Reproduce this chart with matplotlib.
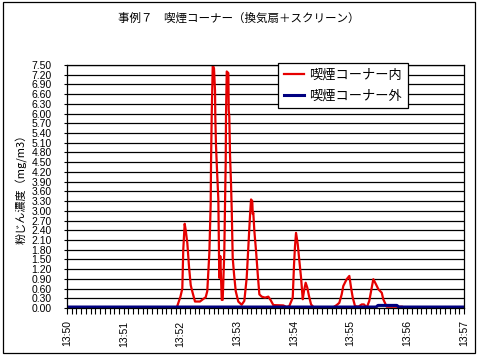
import matplotlib
matplotlib.use("Agg")
import matplotlib.pyplot as plt
from matplotlib.patches import Rectangle
from matplotlib.ticker import MultipleLocator

# seconds after 13:50:00
inside_sec = [116, 120, 122, 123, 124.5, 125.6, 127.3, 129.1, 130.9, 133,
              135.4, 140.7, 144.2, 146.7, 148.4, 150.6, 152, 152.4, 153.1, 154.2,
              155.5, 156.6, 156.9, 157.6, 158.7, 160.1, 161.1, 162.2, 163.7, 164.7,
              166.4, 167.2, 167.9, 168.2, 169, 170.7, 171.1, 171.7, 172.5, 173.5,
              174.3, 175.3, 176.7, 178.5, 181.2, 184.8, 187.6, 190.1, 191.8, 193.6,
              194.7, 196, 196.5, 197.1, 198.2, 200, 201.8, 203.5, 206, 209.5,
              213, 215.5, 218.3, 228.8, 232.4, 235.2, 238.8, 240.2, 241.2, 242.3,
              244.1, 245.5, 247.6, 249.4, 250.7, 252.5, 254.2, 256, 258.2, 261.3,
              281.1, 285.3, 288.1, 290.6, 292.3, 295.9, 298.7, 300.5, 302.3, 304.7,
              308.2, 311.8, 314.2, 317.1, 319.8, 322.4, 324.1, 326.9, 329.4, 333,
              334.6, 338.2, 350.5, 354.1]
inside_val = [0, 0.35, 0.6, 1.8, 2.6, 2.4, 2.0, 1.27, 0.7, 0.46,
              0.2, 0.2, 0.28, 0.33, 0.52, 1.7, 3.2, 4.5, 5.95, 7.5,
              7.4, 6.7, 5.9, 5.03, 4.26, 3.36, 0.93, 1.6, 0.25, 0.25,
              1.7, 3.25, 4.5, 5.9, 7.3, 7.25, 6.1, 5.9, 4.7, 3.86,
              3.0, 1.55, 1.05, 0.52, 0.2, 0.1, 0.22, 0.93, 1.86, 2.84,
              3.35, 3.3, 2.9, 2.94, 2.38, 1.76, 1.04, 0.42, 0.35, 0.32,
              0.35, 0.24, 0.09, 0.08, 0.03, 0.06, 0.32, 1.35, 1.9, 2.32,
              1.97, 1.55, 0.94, 0.27, 0.52, 0.78, 0.63, 0.37, 0.11, 0.01,
              0.01, 0.09, 0.16, 0.42, 0.68, 0.89, 0.99, 0.63, 0.32, 0.06,
              0.04, 0.11, 0.11, 0.01, 0.22, 0.63, 0.89, 0.73, 0.58, 0.47,
              0.27, 0.04, 0.04, 0.04]

outside_sec = [0, 327, 329, 349, 351, 420]
outside_val = [0.03, 0.03, 0.08, 0.08, 0.03, 0.03]

time_labels = ["13:50", "13:51", "13:52", "13:53", "13:54", "13:55", "13:56", "13:57"]
y_ticks = [round(0.3 * i, 2) for i in range(26)]

title = "事例７　喫煙コーナー（換気扇＋スクリーン）"
ylabel = "粉じん濃度（mg/m3）"
inside_name = "喫煙コーナー内"
outside_name = "喫煙コーナー外"

cjk = ["Noto Sans CJK JP", "DejaVu Sans"]
num_font = ["Liberation Sans Narrow", "Liberation Sans", "DejaVu Sans"]


def main():
    fig = plt.figure(figsize=(4.78, 3.58), dpi=100)
    ax = fig.add_axes([67 / 478, 50 / 358, 397 / 478, 243 / 358])

    ax.plot(inside_sec, inside_val, color="#e60000", lw=1.6, label=inside_name)
    ax.plot(outside_sec, outside_val, color="#000080", lw=2.2, label=outside_name)

    ax.set_xlim(0, 420)
    ax.set_ylim(0, 7.5)
    ax.set_yticks(y_ticks)
    ax.set_yticklabels([f"{v:.2f}" for v in y_ticks], family=num_font, fontsize=7.5)
    ax.set_xticks([60 * i for i in range(len(time_labels))])
    ax.set_xticklabels(time_labels, rotation=90, family=num_font, fontsize=7.5)
    ax.xaxis.set_minor_locator(MultipleLocator(5))
    ax.tick_params(axis="x", which="both", direction="out", length=4, width=0.8, pad=5)
    ax.tick_params(axis="y", direction="out", length=2, width=0.8, pad=9)
    ax.yaxis.grid(True, color="black", lw=0.9)
    ax.set_axisbelow(True)
    for s in ax.spines.values():
        s.set_linewidth(0.9)

    leg = ax.legend(loc="upper left", bbox_to_anchor=(0.531, 1.01),
                    prop={"family": cjk, "size": 9.5}, fancybox=False,
                    edgecolor="black", framealpha=1, handlelength=1.5,
                    handletextpad=0.4, borderpad=0.45, labelspacing=0.6,
                    borderaxespad=0)
    leg.get_frame().set_linewidth(0.9)

    fig.text(239 / 478, 1 - 18 / 358, title, family=cjk, fontsize=8.3,
             ha="center", va="center")
    fig.text(22 / 478, 1 - 186 / 358, ylabel, family=cjk, fontsize=8,
             rotation=90, ha="center", va="center")

    fig.patches.append(Rectangle((3 / 478, 5 / 358), 472 / 478, 351 / 358,
                                 transform=fig.transFigure, fill=False,
                                 edgecolor="black", lw=0.9))
    fig.savefig("out.png", dpi=100)


if __name__ == "__main__":
    main()
